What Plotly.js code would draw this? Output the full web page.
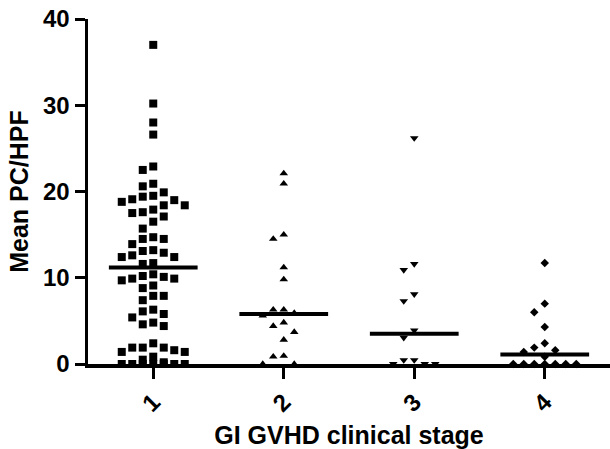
<!DOCTYPE html>
<html>
<head>
<meta charset="utf-8">
<script src="https://cdn.plot.ly/plotly-3.0.1.min.js"></script>
<style>html,body{margin:0;padding:0;background:#fff;}#chart{width:610px;height:449px;}</style>
</head>
<body>
<div id="chart"></div>
<script>
// ---- data ----
const stages = [1, 2, 3, 4];
const stageLabels = ["1", "2", "3", "4"];
const stage1 = [37.0, 30.2, 28.0, 26.6, 22.9, 22.5, 20.9, 20.6, 19.9, 19.1, 18.8, 19.4, 19.5, 19.0,
  18.4, 17.9, 18.4, 17.6, 17.5, 17.1, 16.5, 15.7, 14.5, 14.5, 14.7, 13.9, 13.2, 12.9, 13.1, 12.4,
  12.6, 12.4, 11.7, 11.6, 10.1, 9.9, 10.2, 10.4, 9.7, 9.9, 9.1, 8.8, 7.9, 7.4, 7.9, 6.1, 5.8, 6.3,
  5.4, 4.8, 4.4, 4.6, 1.9, 1.9, 1.4, 1.4, 1.6, 1.9, 2.4, 0.85, 0.5, 0.2, 0, 0, 0, 0, 0, 0, 0];
const stage2 = [22.1, 20.9, 15.0, 14.5, 11.2, 9.8, 6.3, 6.3, 5.9, 5.6, 4.8, 4.4, 3.7, 2.8, 0.93, 0.85, 0, 0];
const stage3 = [26.2, 11.6, 10.9, 8.1, 7.3, 3.9, 3.05, 0.46, 0.46, 0, 0, 0];
const stage4 = [11.7, 7.0, 6.0, 4.3, 2.4, 1.9, 1.6, 1.4, 0.85, 0, 0, 0, 0, 0, 0, 0];
const medians = [11.2, 5.8, 3.5, 1.1];
const yTicks = [0, 10, 20, 30, 40];

// ---- presentation ----
const groups = [stage1, stage2, stage3, stage4];
const symbols = ["square", "triangle-up", "triangle-down", "diamond"];
const sizes = [8, 7.5, 7.5, 6.5];
const W = 610, H = 449;
const M = {l: 88, r: 0, t: 19, b: 85};
const yRange = [0, 40];
const xRange = [0.5, 4.5];
const pxPerY = (H - M.t - M.b) / (yRange[1] - yRange[0]);
const pxPerX = (W - M.l - M.r) / (xRange[1] - xRange[0]);
const colStep = 10.5 / pxPerX;      // horizontal spacing of a swarm column
const thr = 10 / pxPerY;            // vertical clearance within a column
const maxCol = 3;

// simple column beeswarm computed from the values
function swarm(vals, center) {
  const order = vals.map((v, i) => i).sort((a, b) => vals[b] - vals[a]);
  const cols = {};
  const xs = new Array(vals.length);
  const tryOrder = [0];
  for (let k = 1; k <= maxCol; k++) { tryOrder.push(-k, k); }
  order.forEach(i => {
    const v = vals[i];
    let best = null, bestDy = -1;
    for (const k of tryOrder) {
      const list = cols[k] || [];
      let md = Infinity;
      list.forEach(u => { md = Math.min(md, Math.abs(u - v)); });
      if (md >= thr) { best = k; bestDy = md; break; }
      if (md > bestDy) { bestDy = md; best = k; }
    }
    (cols[best] = cols[best] || []).push(v);
    xs[i] = center + best * colStep;
  });
  return xs;
}

const traces = [];
groups.forEach((vals, g) => {
  traces.push({
    type: "scatter", mode: "markers",
    x: swarm(vals, stages[g]), y: vals,
    marker: {symbol: symbols[g], size: sizes[g], color: "#000", line: {width: 0}},
    cliponaxis: false, hoverinfo: "skip", showlegend: false
  });
});
const halfW = 0.34;
medians.forEach((m, g) => {
  traces.push({
    type: "scatter", mode: "lines",
    x: [stages[g] - halfW, stages[g] + halfW], y: [m, m],
    line: {color: "#000", width: 4},
    cliponaxis: false, hoverinfo: "skip", showlegend: false
  });
});

const fontFam = "Arial, 'Liberation Sans', Helvetica, sans-serif";
const layout = {
  width: W, height: H,
  margin: M,
  paper_bgcolor: "#fff", plot_bgcolor: "#fff",
  showlegend: false,
  font: {family: fontFam, color: "#000"},
  xaxis: {
    range: xRange, autorange: false,
    tickmode: "array", tickvals: stages, ticktext: stageLabels,
    tickangle: -45,
    ticks: "outside", ticklen: 11, tickwidth: 3, tickcolor: "#000",
    showline: true, linewidth: 3.5, linecolor: "#000",
    showgrid: false, zeroline: false,
    tickfont: {family: fontFam, size: 24, weight: "bold", color: "#000"},
    title: {text: "GI GVHD clinical stage", font: {family: fontFam, size: 25, weight: "bold", color: "#000"}, standoff: 12},
    automargin: false
  },
  yaxis: {
    range: yRange, autorange: false,
    tickmode: "array", tickvals: yTicks,
    ticks: "outside", ticklen: 10, tickwidth: 3, tickcolor: "#000",
    showline: true, linewidth: 3.5, linecolor: "#000",
    showgrid: false, zeroline: false,
    tickfont: {family: fontFam, size: 24, weight: "bold", color: "#000"},
    title: {text: "Mean PC/HPF", font: {family: fontFam, size: 25, weight: "bold", color: "#000"}, standoff: 8},
    automargin: false
  }
};
Plotly.newPlot("chart", traces, layout, {staticPlot: true, displayModeBar: false});
</script>
</body>
</html>
